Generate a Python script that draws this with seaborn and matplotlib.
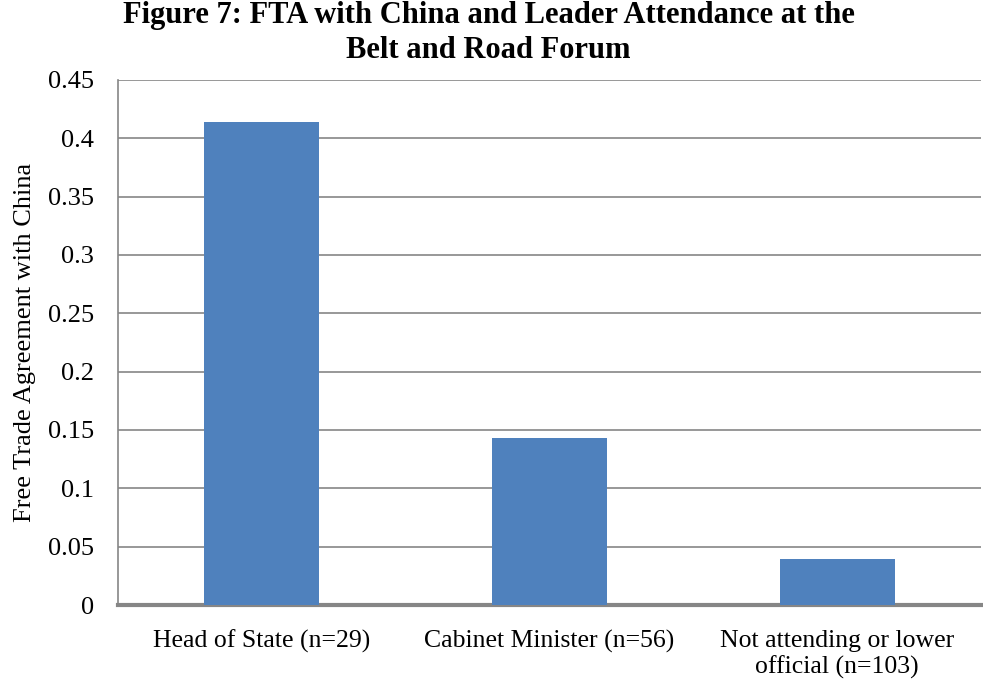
import matplotlib
matplotlib.use("Agg")
import matplotlib.pyplot as plt
import seaborn as sns
import pandas as pd

categories = ["Head of State (n=29)", "Cabinet Minister (n=56)",
              "Not attending or lower\nofficial (n=103)"]
fta_share = [0.414, 0.143, 0.039]
y_ticks = [0, 0.05, 0.1, 0.15, 0.2, 0.25, 0.3, 0.35, 0.4, 0.45]
y_tick_labels = ["0", "0.05", "0.1", "0.15", "0.2", "0.25", "0.3", "0.35", "0.4", "0.45"]

sns.set_theme(style="white")
plt.rcParams["font.family"] = ["Liberation Serif", "DejaVu Serif"]
plt.rcParams["text.color"] = "black"
plt.rcParams["axes.labelcolor"] = "black"
plt.rcParams["xtick.color"] = "black"
plt.rcParams["ytick.color"] = "black"

df = pd.DataFrame({"category": categories, "share": fta_share})

fig = plt.figure(figsize=(9.83, 6.83), dpi=100)
ax = fig.add_axes([0.12, 0.1142, 0.878, 0.7687])

grey = "#868686"
sns.barplot(data=df, x="category", y="share", color="#4F81BD",
            saturation=1, width=0.4, linewidth=0, ax=ax, zorder=3)

ax.set_ylim(0, 0.45)
ax.set_xlim(-0.5, 2.5)
ax.set_yticks(y_ticks)
ax.set_yticklabels(y_tick_labels, fontsize=19)
ax.yaxis.grid(True, color=grey, linewidth=1.2, zorder=0)
ax.set_axisbelow(True)

ax.set_xticks(range(len(categories)))
ax.set_xticklabels(categories, fontsize=18.5)
ax.tick_params(axis="x", which="major", length=0, pad=18, labelcolor="black")
ax.set_xticks([-0.5, 0.5, 1.5], minor=True)
ax.tick_params(axis="x", which="minor", length=6, width=2.5, color=grey, direction="out")
ax.tick_params(axis="y", which="major", length=6, width=1.2, color=grey,
               direction="out", pad=11, labelcolor="black")

for side in ["top", "right"]:
    ax.spines[side].set_visible(False)
ax.spines["left"].set_color(grey)
ax.spines["left"].set_linewidth(1.2)
ax.spines["bottom"].set_color(grey)
ax.spines["bottom"].set_linewidth(3)

ax.set_xlabel("")
ax.set_ylabel("Free Trade Agreement with China", fontsize=19, labelpad=9)

fig.suptitle("Figure 7: FTA with China and Leader Attendance at the\nBelt and Road Forum",
             x=0.497, y=0.998, fontsize=22, fontweight="bold", linespacing=1.25)

fig.savefig("out.png", dpi=100)
